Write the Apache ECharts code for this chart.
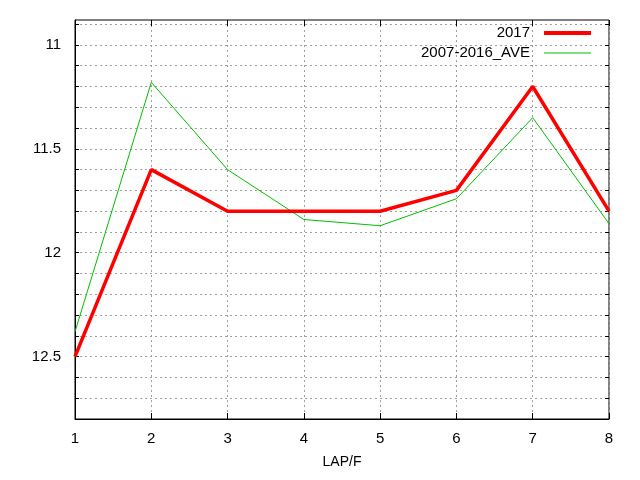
<!DOCTYPE html>
<html>
<head>
<meta charset="utf-8">
<script src="https://cdn.jsdelivr.net/npm/echarts@6/dist/echarts.min.js"></script>
<style>
  html, body { margin: 0; padding: 0; background: #fff; }
  #main { width: 640px; height: 480px; }
</style>
</head>
<body>
<div id="main"></div>
<script>
const laps = [1, 2, 3, 4, 5, 6, 7, 8];
const values2017 = [12.5, 11.6, 11.8, 11.8, 11.8, 11.7, 11.2, 11.8];
const valuesAve = [12.38, 11.18, 11.6, 11.84, 11.87, 11.74, 11.35, 11.86];
const yGridValues = [10.9, 11, 11.1, 11.2, 11.3, 11.4, 11.5, 11.6, 11.7, 11.8, 11.9, 12, 12.1, 12.2, 12.3, 12.4, 12.5, 12.6, 12.7];
const yLabelValues = [11, 11.5, 12, 12.5];

const chart = echarts.init(document.getElementById("main"), null, { renderer: "canvas" });

const font = "Liberation Sans, Arial, sans-serif";
const gridLine = { show: true, lineStyle: { color: "#a0a0a0", type: [2, 3], width: 1 } };
const legendText = { fontFamily: font, fontSize: 15, color: "#000", lineHeight: 16, padding: [0, 9, 0, 0] };

const option = {
  backgroundColor: "#fff",
  animation: false,
  grid: { left: 75, right: 31, top: 20, bottom: 61, show: true, borderColor: "#000", borderWidth: 1 },
  legend: [
    {
      data: ["2017"],
      right: 49,
      top: 25,
      padding: 0,
      align: "right",
      icon: "rect",
      itemWidth: 47,
      itemHeight: 4,
      textStyle: legendText,
    },
    {
      data: ["2007-2016_AVE"],
      right: 49,
      top: 45,
      padding: 0,
      align: "right",
      icon: "rect",
      itemWidth: 47,
      itemHeight: 1,
      textStyle: legendText,
    },
  ],
  xAxis: [
    {
      type: "value",
      min: 1,
      max: 8,
      interval: 1,
      name: "LAP/F",
      nameLocation: "middle",
      nameGap: 36,
      nameTextStyle: { fontFamily: font, fontSize: 14, color: "#000" },
      axisLine: { show: true, lineStyle: { color: "#000" } },
      axisTick: { show: true, inside: true, length: 6, lineStyle: { color: "#000" } },
      axisLabel: { fontFamily: font, fontSize: 15, color: "#000", margin: 12 },
      splitLine: gridLine,
    },
    {
      type: "value",
      position: "top",
      min: 1,
      max: 8,
      interval: 1,
      axisLine: { show: false },
      axisTick: { show: true, inside: true, length: 6, lineStyle: { color: "#000" } },
      axisLabel: { show: false },
      splitLine: { show: false },
    },
  ],
  yAxis: [
    {
      type: "value",
      inverse: true,
      min: 10.88,
      max: 12.8,
      axisLine: { show: true, lineStyle: { color: "#000" } },
      axisTick: { show: true, inside: true, length: 4, lineStyle: { color: "#000" }, customValues: yGridValues },
      axisLabel: {
        fontFamily: font,
        fontSize: 15,
        color: "#000",
        margin: 14,
        customValues: yLabelValues,
        formatter: (v) => String(v),
      },
      splitLine: gridLine,
    },
    {
      type: "value",
      position: "right",
      inverse: true,
      min: 10.88,
      max: 12.8,
      axisLine: { show: false },
      axisTick: { show: true, inside: true, length: 4, lineStyle: { color: "#000" }, customValues: yGridValues },
      axisLabel: { show: false },
      splitLine: { show: false },
    },
  ],
  series: [
    {
      name: "2017",
      type: "line",
      data: laps.map((x, i) => [x, values2017[i]]),
      symbol: "none",
      lineStyle: { color: "#ff0000", width: 3.5 },
      itemStyle: { color: "#ff0000" },
      z: 3,
    },
    {
      name: "2007-2016_AVE",
      type: "line",
      data: laps.map((x, i) => [x, valuesAve[i]]),
      symbol: "none",
      lineStyle: { color: "#00c000", width: 1 },
      itemStyle: { color: "#00c000" },
      z: 2,
    },
  ],
};

chart.setOption(option, true);
</script>
</body>
</html>
